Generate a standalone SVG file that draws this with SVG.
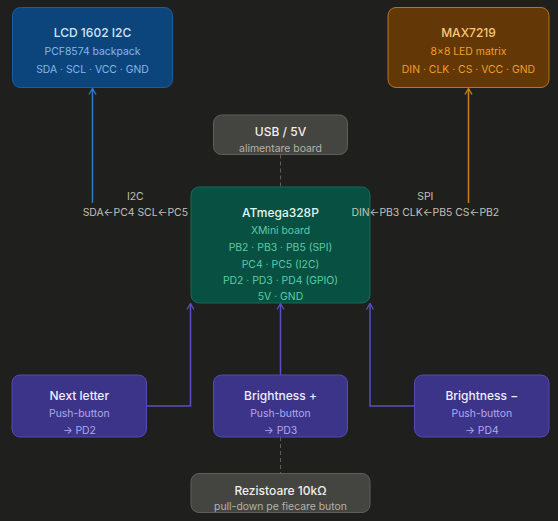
<svg xmlns="http://www.w3.org/2000/svg" width="558" height="521" viewBox="0 0 558 521">
<style>
text{font-family:Inter,"Noto Sans","Liberation Sans",sans-serif;text-anchor:middle;dominant-baseline:central}
.t{font-size:12px;font-weight:500}
.s{font-size:10.4px}
.lbl{font-size:10.4px;fill:#c2c0b6}
.blue rect{fill:#0c447c;stroke:#185fa5}
.blue .t{fill:#d2e4f6}.blue .s{fill:#85b7eb}
.amber rect{fill:#633806;stroke:#ba7517}
.amber .t{fill:#fac775}.amber .s{fill:#ef9f27}
.teal rect{fill:#085041;stroke:#0f6e56}
.teal .t{fill:#e1f5ee}.teal .s{fill:#5dcaa5}
.purple rect{fill:#3c3489;stroke:#534ab7}
.purple .t{fill:#eeedfe}.purple .s{fill:#afa9ec}
.gray rect{fill:#444441;stroke:#5f5e5a}
.gray .t{fill:#f1efe8}.gray .s{fill:#b4b2a9}
rect{stroke-width:1}
.c{fill:none;stroke-width:1.5}
.d{fill:none;stroke:#5f5e5a;stroke-width:1;stroke-dasharray:4 3}
</style>
<defs>
<marker id="ab" viewBox="0 0 10 10" refX="9" refY="5" markerWidth="10" markerHeight="10" markerUnits="userSpaceOnUse" orient="auto"><path d="M3 1.5L9 5L3 8.5" fill="none" stroke="#2f7acb" stroke-width="1.3"/></marker>
<marker id="ao" viewBox="0 0 10 10" refX="9" refY="5" markerWidth="10" markerHeight="10" markerUnits="userSpaceOnUse" orient="auto"><path d="M3 1.5L9 5L3 8.5" fill="none" stroke="#c98219" stroke-width="1.3"/></marker>
<marker id="ap" viewBox="0 0 10 10" refX="9" refY="5" markerWidth="10" markerHeight="10" markerUnits="userSpaceOnUse" orient="auto"><path d="M3 1.5L9 5L3 8.5" fill="none" stroke="#5a4fc4" stroke-width="1.3"/></marker>
</defs>
<rect width="558" height="521" fill="#1f1f1e"/>

<g id="connectors">
<path class="c" d="M92.5 203V88.5" stroke="#2f7acb" marker-end="url(#ab)"/>
<path class="c" d="M468.5 203V88.5" stroke="#c98219" marker-end="url(#ao)"/>
<path class="c" d="M147 406H190.5V303.5" stroke="#5a4fc4" marker-end="url(#ap)"/>
<path class="c" d="M280.5 375V303.5" stroke="#5a4fc4" marker-end="url(#ap)"/>
<path class="c" d="M414.5 406H370V303.5" stroke="#5a4fc4" marker-end="url(#ap)"/>
<path class="d" d="M280.5 154.5V187"/>
<path class="d" d="M280.5 437V473.5"/>
</g>

<g id="lcd" class="blue">
<rect x="12.5" y="7.5" width="160" height="80" rx="8"/>
<text class="t" x="92.5" y="32.5">LCD 1602 I2C</text>
<text class="s" x="92.5" y="51">PCF8574 backpack</text>
<text class="s" x="92.5" y="69">SDA · SCL · VCC · GND</text>
</g>

<g id="max7219" class="amber">
<rect x="388" y="7.5" width="161" height="80" rx="8"/>
<text class="t" x="468.5" y="32.5">MAX7219</text>
<text class="s" x="468.5" y="51">8×8 LED matrix</text>
<text class="s" x="468.5" y="69">DIN · CLK · CS · VCC · GND</text>
</g>

<g id="usb" class="gray">
<rect x="213.5" y="115" width="134" height="39.5" rx="8"/>
<text class="t" x="280.5" y="131.5">USB / 5V</text>
<text class="s" x="280.5" y="148">alimentare board</text>
</g>

<g id="atmega" class="teal">
<rect x="191" y="187" width="179" height="116" rx="8"/>
<text class="t" x="280.5" y="212.5">ATmega328P</text>
<text class="s" x="280.5" y="230">XMini board</text>
<text class="s" x="280.5" y="247.5">PB2 · PB3 · PB5 (SPI)</text>
<text class="s" x="280.5" y="264">PC4 · PC5 (I2C)</text>
<text class="s" x="280.5" y="280">PD2 · PD3 · PD4 (GPIO)</text>
<text class="s" x="280.5" y="296">5V · GND</text>
</g>

<g id="btn-next" class="purple">
<rect x="12" y="375" width="134.5" height="62" rx="8"/>
<text class="t" x="79.3" y="395">Next letter</text>
<text class="s" x="79.3" y="413.5">Push-button</text>
<text class="s" x="79.3" y="430.5">→ PD2</text>
</g>

<g id="btn-plus" class="purple">
<rect x="213.5" y="375" width="134" height="62" rx="8"/>
<text class="t" x="280.5" y="395">Brightness +</text>
<text class="s" x="280.5" y="413.5">Push-button</text>
<text class="s" x="280.5" y="430.5">→ PD3</text>
</g>

<g id="btn-minus" class="purple">
<rect x="414.5" y="375" width="134.5" height="62" rx="8"/>
<text class="t" x="481.8" y="395">Brightness −</text>
<text class="s" x="481.8" y="413.5">Push-button</text>
<text class="s" x="481.8" y="430.5">→ PD4</text>
</g>

<g id="resistors" class="gray">
<rect x="191" y="473.5" width="179" height="39" rx="8"/>
<text class="t" x="280.5" y="490">Rezistoare 10kΩ</text>
<text class="s" x="280.5" y="506.5">pull-down pe fiecare buton</text>
</g>

<g id="labels">
<text class="lbl" x="135.3" y="196">I2C</text>
<text class="lbl" x="135.3" y="212">SDA←PC4 SCL←PC5</text>
<text class="lbl" x="425.3" y="196">SPI</text>
<text class="lbl" x="425.3" y="212">DIN←PB3 CLK←PB5 CS←PB2</text>
</g>
</svg>
